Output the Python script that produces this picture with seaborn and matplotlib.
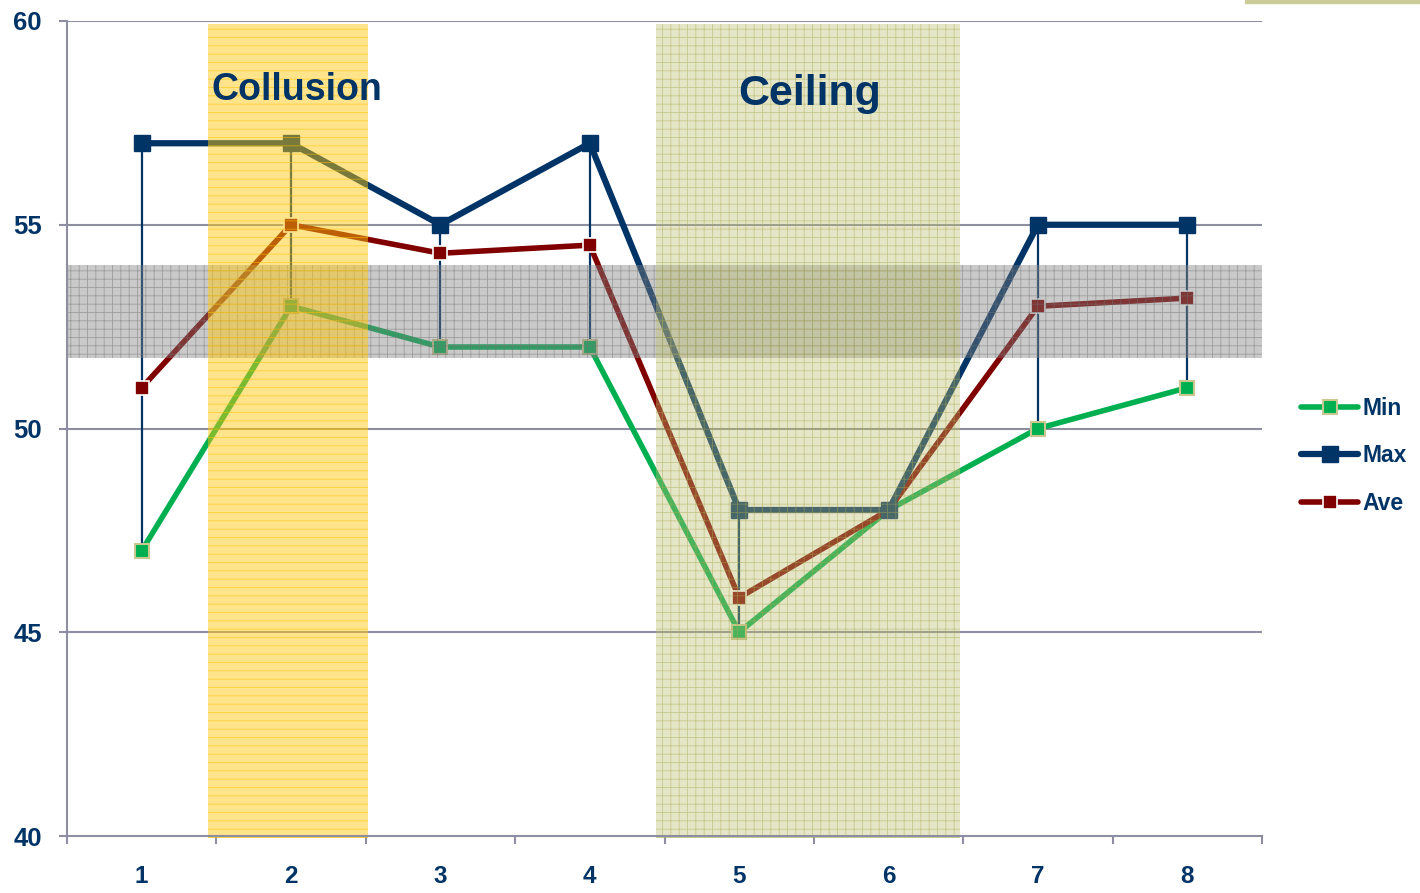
import numpy as np
import pandas as pd
import matplotlib
matplotlib.use("Agg")
import matplotlib.pyplot as plt
from matplotlib.patches import Rectangle
import seaborn as sns

sns.set_style("white")
plt.rcParams['font.family'] = ['Liberation Sans', 'DejaVu Sans']
plt.rcParams['hatch.linewidth'] = 0.6

# data
categories = [1, 2, 3, 4, 5, 6, 7, 8]
min_vals = [47, 53, 52, 52, 45, 48, 50, 51]
max_vals = [57, 57, 55, 57, 48, 48, 55, 55]
ave_vals = [51, 55, 54.3, 54.5, 45.85, 48, 53, 53.2]
y_ticks = [40, 45, 50, 55, 60]

navy = '#003366'
green = '#00b050'
red = '#800000'
grid_col = '#8e8ea2'

df = pd.DataFrame({'cat': categories, 'Min': min_vals, 'Max': max_vals, 'Ave': ave_vals})

fig = plt.figure(figsize=(14.2, 8.93), dpi=100)
ax = fig.add_axes([67 / 1420, 1 - 836 / 893, (1262 - 67) / 1420, (836 - 21) / 893])

# horizontal gridlines
for yv in y_ticks[1:]:
    ax.axhline(yv, color=grid_col, lw=1.5, zorder=1)

# high-low lines
ax.vlines(df['cat'], df['Min'], df['Max'], color=navy, lw=1.6, zorder=2)

sns.lineplot(data=df, x='cat', y='Min', ax=ax, color=green, lw=4, marker='s',
             markersize=10, markerfacecolor=green, markeredgecolor='#c8c890',
             markeredgewidth=1.5, label='Min', zorder=3)
sns.lineplot(data=df, x='cat', y='Max', ax=ax, color=navy, lw=4.5, marker='s',
             markersize=11, markerfacecolor=navy, markeredgecolor=navy,
             markeredgewidth=1, label='Max', zorder=4)
sns.lineplot(data=df, x='cat', y='Ave', ax=ax, color=red, lw=4, marker='s',
             markersize=9.5, markerfacecolor=red, markeredgecolor='white',
             markeredgewidth=1.2, label='Ave', zorder=3)

# shaded bands (drawn over the lines, semi-transparent)
ax.axhspan(51.72, 54.0, facecolor=(0.5, 0.5, 0.5, 0.42),
           edgecolor=(0.45, 0.45, 0.45, 0.5), hatch='++', lw=0, zorder=5)
ax.axvspan(1.444, 2.515, ymin=-0.003, ymax=0.996, facecolor=(1.0, 0.78, 0.05, 0.48),
           edgecolor=(1.0, 0.76, 0.0, 0.6), hatch='--', lw=0, zorder=6, clip_on=False)
ax.axvspan(4.44, 6.48, ymin=-0.003, ymax=0.996, facecolor=(0.74, 0.74, 0.44, 0.38),
           edgecolor=(0.66, 0.66, 0.30, 0.5), hatch='++', lw=0, zorder=6, clip_on=False)

ax.text(1.47, 58.3, 'Collusion', fontsize=27, fontweight='bold', color=navy,
        ha='left', va='center', zorder=7)
ax.text(5.47, 58.2, 'Ceiling', fontsize=31, fontweight='bold', color=navy,
        ha='center', va='center', zorder=7)

ax.set_xlim(0.5, 8.5)
ax.set_ylim(40, 60)
ax.set_xlabel('')
ax.set_ylabel('')
ax.set_yticks(y_ticks)
ax.set_yticklabels([str(v) for v in y_ticks])
ax.set_xticks(categories)
ax.set_xticklabels([str(c) for c in categories])
ax.set_xticks(np.arange(0.5, 9.0, 1.0), minor=True)
ax.tick_params(axis='x', which='major', length=0, pad=21, labelsize=17.5,
               labelcolor=navy)
ax.tick_params(axis='x', which='minor', length=6, width=1.5, color=grid_col,
               direction='out', bottom=True)
ax.tick_params(axis='y', which='major', length=6, width=1.5, color=grid_col,
               direction='out', left=True, pad=12, labelsize=18.5, labelcolor=navy)
for lab in ax.get_xticklabels() + ax.get_yticklabels():
    lab.set_fontweight('bold')

for side in ['top', 'right']:
    ax.spines[side].set_visible(False)
for side in ['left', 'bottom']:
    ax.spines[side].set_color(grid_col)
    ax.spines[side].set_linewidth(1.5)
    ax.spines[side].set_zorder(8)

leg = ax.legend(loc='center left', bbox_to_anchor=(1301 / 1420, 1 - 456 / 893),
                bbox_transform=fig.transFigure, frameon=False, handlelength=2.5,
                handletextpad=0.2, labelspacing=1.05, borderpad=0, borderaxespad=0,
                prop={'weight': 'bold', 'size': 16.5})
for t in leg.get_texts():
    t.set_color(navy)

fig.patches.append(Rectangle((1245 / 1420, 1 - 3 / 893), 175 / 1420, 3 / 893,
                             transform=fig.transFigure, color='#cccc99'))

fig.savefig('out.png', dpi=100)
